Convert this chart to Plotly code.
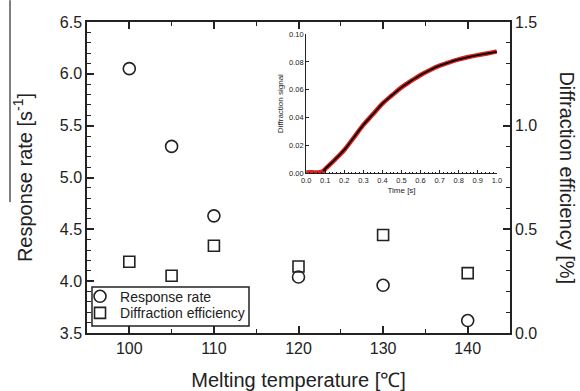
import plotly.graph_objects as go

# Main data
temperature = [100, 105, 110, 120, 130, 140]
response_rate = [6.05, 5.30, 4.63, 4.04, 3.96, 3.62]
diffraction_eff = [0.344, 0.276, 0.421, 0.321, 0.473, 0.289]

x_ticks = [100, 110, 120, 130, 140]
y_left_ticks = [3.5, 4.0, 4.5, 5.0, 5.5, 6.0, 6.5]
y_right_ticks = [0.0, 0.5, 1.0, 1.5]

# Inset data
time_data = [0.0, 0.03, 0.06, 0.08, 0.09, 0.1, 0.15, 0.2, 0.25, 0.3, 0.35, 0.4, 0.45, 0.5,
             0.55, 0.6, 0.65, 0.7, 0.75, 0.8, 0.85, 0.9, 0.95, 1.0]
signal_data = [0.0005, 0.0006, 0.0005, 0.0008, 0.0015, 0.003, 0.0096, 0.0167, 0.0256, 0.0347,
               0.0423, 0.0500, 0.0560, 0.0617, 0.0663, 0.0706, 0.0742, 0.0773, 0.0797,
               0.0818, 0.0835, 0.0849, 0.0861, 0.0875]
time_fit = [0.09, 0.1, 0.15, 0.2, 0.25, 0.3, 0.35, 0.4, 0.45, 0.5, 0.55, 0.6, 0.65, 0.7,
            0.75, 0.8, 0.85, 0.9, 0.95, 1.0]
signal_fit = [0.0015, 0.003, 0.0096, 0.0167, 0.0256, 0.0347, 0.0423, 0.0500, 0.0560, 0.0617,
              0.0663, 0.0706, 0.0742, 0.0773, 0.0797, 0.0818, 0.0835, 0.0849, 0.0861, 0.0873]

FONT = "Liberation Sans, Arial, sans-serif"
AX = "#222222"

fig = go.Figure()
fig.add_trace(go.Scatter(
    x=temperature, y=response_rate, mode="markers", name="Response rate", legend="legend",
    marker=dict(symbol="circle-open", size=12, color=AX, line=dict(width=1.6, color=AX)),
    xaxis="x", yaxis="y"))
fig.add_trace(go.Scatter(
    x=temperature, y=diffraction_eff, mode="markers", name="Diffraction efficiency", legend="legend2",
    marker=dict(symbol="square-open", size=11, color=AX, line=dict(width=1.6, color=AX)),
    xaxis="x", yaxis="y2"))

fig.add_trace(go.Scatter(
    x=time_data, y=signal_data, mode="lines", showlegend=False,
    line=dict(color="#e0201c", width=4.5, shape="spline"), xaxis="x3", yaxis="y3"))
fig.add_trace(go.Scatter(
    x=time_fit, y=signal_fit, mode="lines", showlegend=False,
    line=dict(color="black", width=1.8, shape="spline"), xaxis="x3", yaxis="y3"))

leg_common = dict(xanchor="left", yanchor="middle", bgcolor="rgba(0,0,0,0)", borderwidth=0,
                  font=dict(size=14, family=FONT, color=AX), itemwidth=30)

fig.update_layout(
    width=580, height=391,
    margin=dict(l=87, r=70, t=22, b=58, autoexpand=False),
    paper_bgcolor="white", plot_bgcolor="white",
    font=dict(family=FONT, color=AX),
    showlegend=True,
    legend=dict(x=-0.0165, y=0.1167, **leg_common),
    legend2=dict(x=-0.0165, y=0.0633, **leg_common),
    xaxis=dict(range=[95, 145], tickvals=x_ticks, ticks="inside", ticklen=7, tickwidth=1.5,
               tickcolor=AX, showline=True, linecolor=AX, linewidth=1.5, mirror="ticks",
               showgrid=False, zeroline=False,
               minor=dict(dtick=5, tick0=95, ticks="inside", ticklen=4, tickwidth=1.2, tickcolor=AX, showgrid=False),
               tickfont=dict(size=16), domain=[0, 1], anchor="y",
               title=dict(text="Melting temperature [℃]", font=dict(size=20), standoff=17)),
    yaxis=dict(range=[3.5, 6.5], tickvals=y_left_ticks, ticktext=[f"{v:.1f}" for v in y_left_ticks],
               ticks="inside", ticklen=7, tickwidth=1.5, tickcolor=AX, showline=True,
               linecolor=AX, linewidth=1.5, showgrid=False, zeroline=False,
               minor=dict(dtick=0.1, tick0=3.5, ticks="inside", ticklen=4, tickwidth=1.2, tickcolor=AX, showgrid=False),
               tickfont=dict(size=16), anchor="x",
               title=dict(text="Response rate [s<sup>-1</sup>]", font=dict(size=20), standoff=22)),
    yaxis2=dict(range=[0, 1.5], tickvals=y_right_ticks, ticktext=[f"{v:.1f}" for v in y_right_ticks],
                overlaying="y", side="right", anchor="x",
                ticks="inside", ticklen=7, tickwidth=1.5, tickcolor=AX, showline=True,
                linecolor=AX, linewidth=1.5, showgrid=False, zeroline=False,
                minor=dict(dtick=0.1, tick0=0, ticks="inside", ticklen=4, tickwidth=1.2, tickcolor=AX, showgrid=False),
                tickfont=dict(size=16)),
    xaxis3=dict(domain=[0.518, 0.969], anchor="y3", range=[0, 1.0],
                tickvals=[i / 10 for i in range(11)], ticktext=[f"{i/10:.1f}" for i in range(11)],
                ticks="inside", ticklen=3, tickwidth=1, tickcolor=AX,
                showline=True, linecolor=AX, linewidth=1, showgrid=False, zeroline=False,
                minor=dict(dtick=0.02, ticks="inside", ticklen=1.5, tickwidth=1, tickcolor=AX, showgrid=False),
                tickfont=dict(size=7.5),
                title=dict(text="Time [s]", font=dict(size=8), standoff=3)),
    yaxis3=dict(domain=[0.514, 0.961], anchor="x3", range=[0, 0.10],
                tickvals=[0, 0.02, 0.04, 0.06, 0.08, 0.10],
                ticktext=["0.00", "0.02", "0.04", "0.06", "0.08", "0.10"],
                ticks="inside", ticklen=3, tickwidth=1, tickcolor=AX,
                showline=True, linecolor=AX, linewidth=1, showgrid=False, zeroline=False,
                tickfont=dict(size=7.5),
                title=dict(text="Diffraction signal", font=dict(size=8), standoff=4)),
)

# legend frame
fig.add_shape(type="rect", xref="paper", yref="paper", x0=0.0118, x1=0.383, y0=0.0225, y1=0.148,
              line=dict(color=AX, width=1.5), fillcolor="white", layer="below")

fig.add_annotation(text="Diffraction efficiency [%]", xref="paper", yref="paper",
                   x=1.135, y=0.5, xanchor="center", yanchor="middle", textangle=90,
                   showarrow=False, font=dict(size=20, family=FONT, color=AX))

fig.add_shape(type="line", xref="paper", yref="paper", x0=-0.182, x1=-0.182,
              y0=1.07, y1=0.421, line=dict(color="black", width=1))

fig.write_html("out.html", config={"displayModeBar": False},
               post_script="document.body.style.margin='0';")
